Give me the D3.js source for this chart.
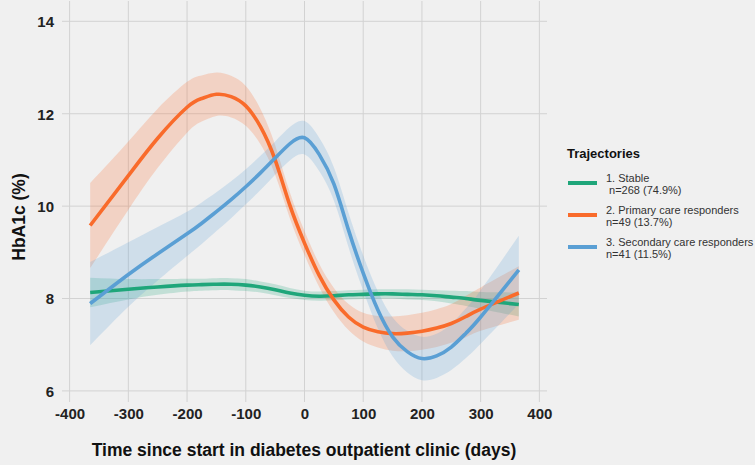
<!DOCTYPE html>
<html>
<head>
<meta charset="utf-8">
<script src="https://cdn.jsdelivr.net/npm/d3@7"></script>
<style>
  html, body { margin: 0; padding: 0; background: #f0f0f0; }
  svg { display: block; }
  text { font-family: "Liberation Sans", Arial, sans-serif; }
</style>
</head>
<body>
<svg id="chart" width="755" height="465"></svg>
<script>
// ---- data ----
const days = [-365, -300, -250, -200, -175, -150, -125, -100, -75, -50, -25, 0, 25, 50, 75, 100, 125, 150, 175, 200, 225, 250, 275, 300, 365];

const stableMean  = [8.13, 8.20, 8.25, 8.29, 8.30, 8.31, 8.31, 8.29, 8.25, 8.19, 8.12, 8.07, 8.05, 8.06, 8.08, 8.09, 8.10, 8.10, 8.09, 8.08, 8.06, 8.03, 8.00, 7.96, 7.87];
const stableLower = [7.81, 7.98, 8.08, 8.15, 8.17, 8.18, 8.18, 8.16, 8.13, 8.07, 8.01, 7.97, 7.95, 7.96, 7.98, 7.99, 8.00, 8.00, 7.98, 7.97, 7.94, 7.89, 7.84, 7.78, 7.61];
const stableUpper = [8.45, 8.42, 8.42, 8.43, 8.43, 8.44, 8.44, 8.42, 8.37, 8.31, 8.23, 8.17, 8.15, 8.16, 8.18, 8.19, 8.20, 8.20, 8.20, 8.19, 8.18, 8.17, 8.16, 8.14, 8.13];

const primaryMean  = [9.58, 10.66, 11.47, 12.14, 12.33, 12.42, 12.37, 12.17, 11.72, 11.00, 10.02, 9.20, 8.50, 7.97, 7.60, 7.38, 7.28, 7.24, 7.25, 7.29, 7.36, 7.46, 7.61, 7.77, 8.12];
const primaryLower = [8.66, 9.92, 10.83, 11.59, 11.83, 11.95, 11.92, 11.74, 11.34, 10.68, 9.74, 8.94, 8.25, 7.71, 7.32, 7.07, 6.94, 6.87, 6.86, 6.89, 6.95, 7.04, 7.16, 7.30, 7.54];
const primaryUpper = [10.50, 11.40, 12.11, 12.69, 12.83, 12.89, 12.82, 12.60, 12.10, 11.32, 10.30, 9.46, 8.75, 8.23, 7.88, 7.69, 7.62, 7.61, 7.64, 7.69, 7.77, 7.88, 8.06, 8.24, 8.70];

const secondaryMean  = [7.89, 8.52, 8.97, 9.40, 9.63, 9.88, 10.14, 10.42, 10.72, 11.04, 11.35, 11.48, 11.12, 10.48, 9.48, 8.55, 7.75, 7.17, 6.85, 6.70, 6.76, 6.95, 7.25, 7.60, 8.62];
const secondaryLower = [6.99, 7.82, 8.39, 8.92, 9.18, 9.46, 9.74, 10.04, 10.35, 10.68, 10.99, 11.12, 10.76, 10.12, 9.11, 8.17, 7.35, 6.75, 6.40, 6.23, 6.28, 6.45, 6.71, 7.02, 7.88];
const secondaryUpper = [8.79, 9.22, 9.55, 9.88, 10.08, 10.30, 10.54, 10.80, 11.09, 11.40, 11.71, 11.84, 11.48, 10.84, 9.85, 8.93, 8.15, 7.59, 7.30, 7.17, 7.24, 7.45, 7.79, 8.18, 9.36];

const seriesNames  = ["1. Stable", "2. Primary care responders", "3. Secondary care responders"];
const seriesCounts = [" n=268 (74.9%)", "n=49 (13.7%)", "n=41 (11.5%)"];
const seriesColors = ["#1fa67a", "#f96b2b", "#5a9fd4"];

const xTicks = [-400, -300, -200, -100, 0, 100, 200, 300, 400];
const yTicks = [6, 8, 10, 12, 14];

// ---- build ----
const svg = d3.select("#chart");
svg.append("rect").attr("width", 755).attr("height", 465).attr("fill", "#f0f0f0");

const x = d3.scaleLinear().domain([-413, 413]).range([62, 547]);
const y = d3.scaleLinear().domain([5.76, 14.44]).range([402, 1]);

// gridlines
const grid = svg.append("g");
grid.selectAll("line.v").data(xTicks).join("line")
  .attr("x1", d => x(d)).attr("x2", d => x(d))
  .attr("y1", y.range()[1]).attr("y2", y.range()[0])
  .attr("stroke", "#d2d2d2").attr("stroke-width", 1);
grid.selectAll("line.h").data(yTicks).join("line")
  .attr("y1", d => y(d)).attr("y2", d => y(d))
  .attr("x1", x.range()[0]).attr("x2", x.range()[1])
  .attr("stroke", "#d2d2d2").attr("stroke-width", 1);

// axes labels (d3 axes, restyled)
const fmt = d => String(d);
const xAxis = svg.append("g").attr("transform", "translate(0,402)")
  .call(d3.axisBottom(x).tickValues(xTicks).tickSize(0).tickPadding(4).tickFormat(fmt));
xAxis.select(".domain").remove();
xAxis.selectAll("text")
  .attr("y", 0).attr("dy", "17px")
  .attr("font-size", 15).attr("font-weight", "bold").attr("fill", "#222")
  .attr("font-family", "Liberation Sans, Arial, sans-serif");

const yAxis = svg.append("g").attr("transform", "translate(54,0)")
  .call(d3.axisLeft(y).tickValues(yTicks).tickSize(0).tickPadding(0).tickFormat(fmt));
yAxis.select(".domain").remove();
yAxis.selectAll("text")
  .attr("x", 0).attr("dy", "0.36em")
  .attr("font-size", 15).attr("font-weight", "bold").attr("fill", "#222")
  .attr("font-family", "Liberation Sans, Arial, sans-serif");

// series
const series = [
  { mean: stableMean, lower: stableLower, upper: stableUpper },
  { mean: primaryMean, lower: primaryLower, upper: primaryUpper },
  { mean: secondaryMean, lower: secondaryLower, upper: secondaryUpper }
];

const curve = d3.curveNatural;
const area = d3.area().curve(curve)
  .x(d => x(d.t)).y0(d => y(d.lo)).y1(d => y(d.hi));
const line = d3.line().curve(curve)
  .x(d => x(d.t)).y(d => y(d.v));

series.forEach((s, i) => {
  const pts = days.map((t, j) => ({ t, v: s.mean[j], lo: s.lower[j], hi: s.upper[j] }));
  svg.append("path").datum(pts).attr("d", area)
    .attr("fill", seriesColors[i]).attr("fill-opacity", 0.22);
});
series.forEach((s, i) => {
  const pts = days.map((t, j) => ({ t, v: s.mean[j] }));
  svg.append("path").datum(pts).attr("d", line)
    .attr("fill", "none").attr("stroke", seriesColors[i])
    .attr("stroke-width", 3.6).attr("stroke-linecap", "butt");
});

// axis titles
svg.append("text")
  .attr("x", 304).attr("y", 456)
  .attr("text-anchor", "middle")
  .attr("font-size", 17.5).attr("font-weight", "bold").attr("fill", "#111")
  .text("Time since start in diabetes outpatient clinic (days)");

svg.append("text")
  .attr("transform", "translate(25,217) rotate(-90)")
  .attr("text-anchor", "middle")
  .attr("font-size", 17.5).attr("font-weight", "bold").attr("fill", "#111")
  .text("HbA1c (%)");

// legend
const leg = svg.append("g");
leg.append("text").attr("x", 567).attr("y", 158)
  .attr("font-size", 13).attr("font-weight", "bold").attr("fill", "#111")
  .text("Trajectories");

const keyY = [183, 215, 247];
seriesNames.forEach((name, i) => {
  leg.append("line")
    .attr("x1", 568).attr("x2", 597)
    .attr("y1", keyY[i]).attr("y2", keyY[i])
    .attr("stroke", seriesColors[i]).attr("stroke-width", 4);
  leg.append("text").attr("x", 606).attr("y", keyY[i] - 1.5)
    .attr("font-size", 11).attr("fill", "#333").text(name);
  leg.append("text").attr("x", 606).attr("y", keyY[i] + 10.5)
    .attr("font-size", 11).attr("fill", "#333")
    .attr("xml:space", "preserve").style("white-space", "pre")
    .text(seriesCounts[i]);
});
</script>
</body>
</html>
